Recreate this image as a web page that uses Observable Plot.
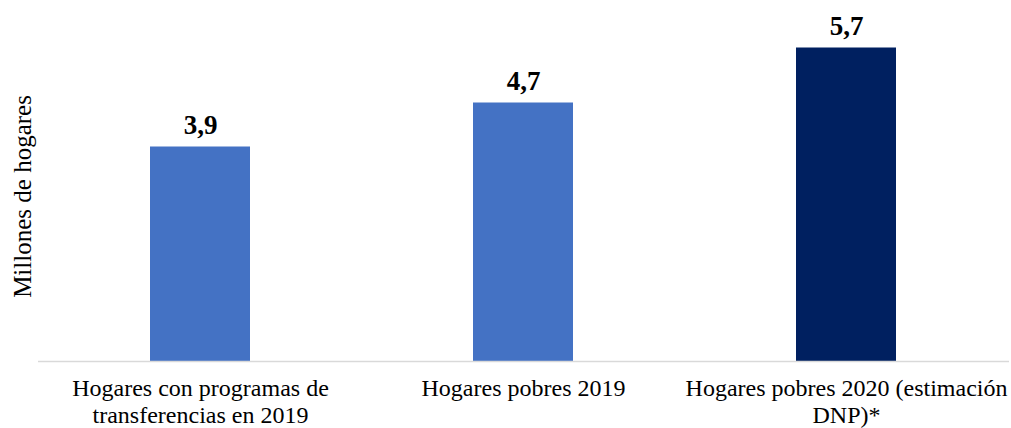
<!DOCTYPE html>
<html><head><meta charset="utf-8">
<script src="https://cdn.jsdelivr.net/npm/d3@7"></script>
<script src="https://cdn.jsdelivr.net/npm/@observablehq/plot@0.6"></script>
<style>body{margin:0;background:#fff;} svg{font-family:"Liberation Serif","Times New Roman",serif;}</style>
</head><body><div id="chart"></div>
<script>
const categories = ["Hogares con programas de\ntransferencias en 2019", "Hogares pobres 2019", "Hogares pobres 2020 (estimación\nDNP)*"];
const values = [3.9, 4.7, 5.7];
const colors = ["#4472C4", "#4472C4", "#002060"];
const valueLabels = ["3,9", "4,7", "5,7"];
const yLabel = "Millones de hogares";

const data = categories.map((c, i) => ({cat: c, v: values[i], color: colors[i], label: valueLabels[i]}));

const chart = Plot.plot({
  width: 1011, height: 428,
  marginLeft: 38, marginRight: 2, marginTop: 31, marginBottom: 67,
  style: {fontFamily: '"Liberation Serif","Times New Roman",serif', background: "#fff"},
  x: {domain: categories, paddingInner: 0.69, paddingOuter: 0.345, axis: null},
  y: {domain: [0, 6], axis: null},
  marks: [
    Plot.barY(data, {x: "cat", y: "v", fill: "color"}),
    Plot.ruleY([0], {stroke: "#d9d9d9", strokeWidth: 1.5}),
    Plot.text(data, {x: "cat", y: "v", text: "label", lineAnchor: "bottom", dy: -13, fontSize: 27, fontWeight: "bold", fill: "#000"}),
    Plot.axisX({tickSize: 0, tickPadding: 16, fontSize: 24, lineHeight: 1.1, fill: "#000", label: null, textOverflow: null, lineWidth: 100}),
    Plot.text([yLabel], {frameAnchor: "left", text: d => d, rotate: -90, dx: -16, textAnchor: "middle", fontSize: 25, fill: "#000"})
  ]
});
document.getElementById("chart").appendChild(chart);
</script></body></html>
